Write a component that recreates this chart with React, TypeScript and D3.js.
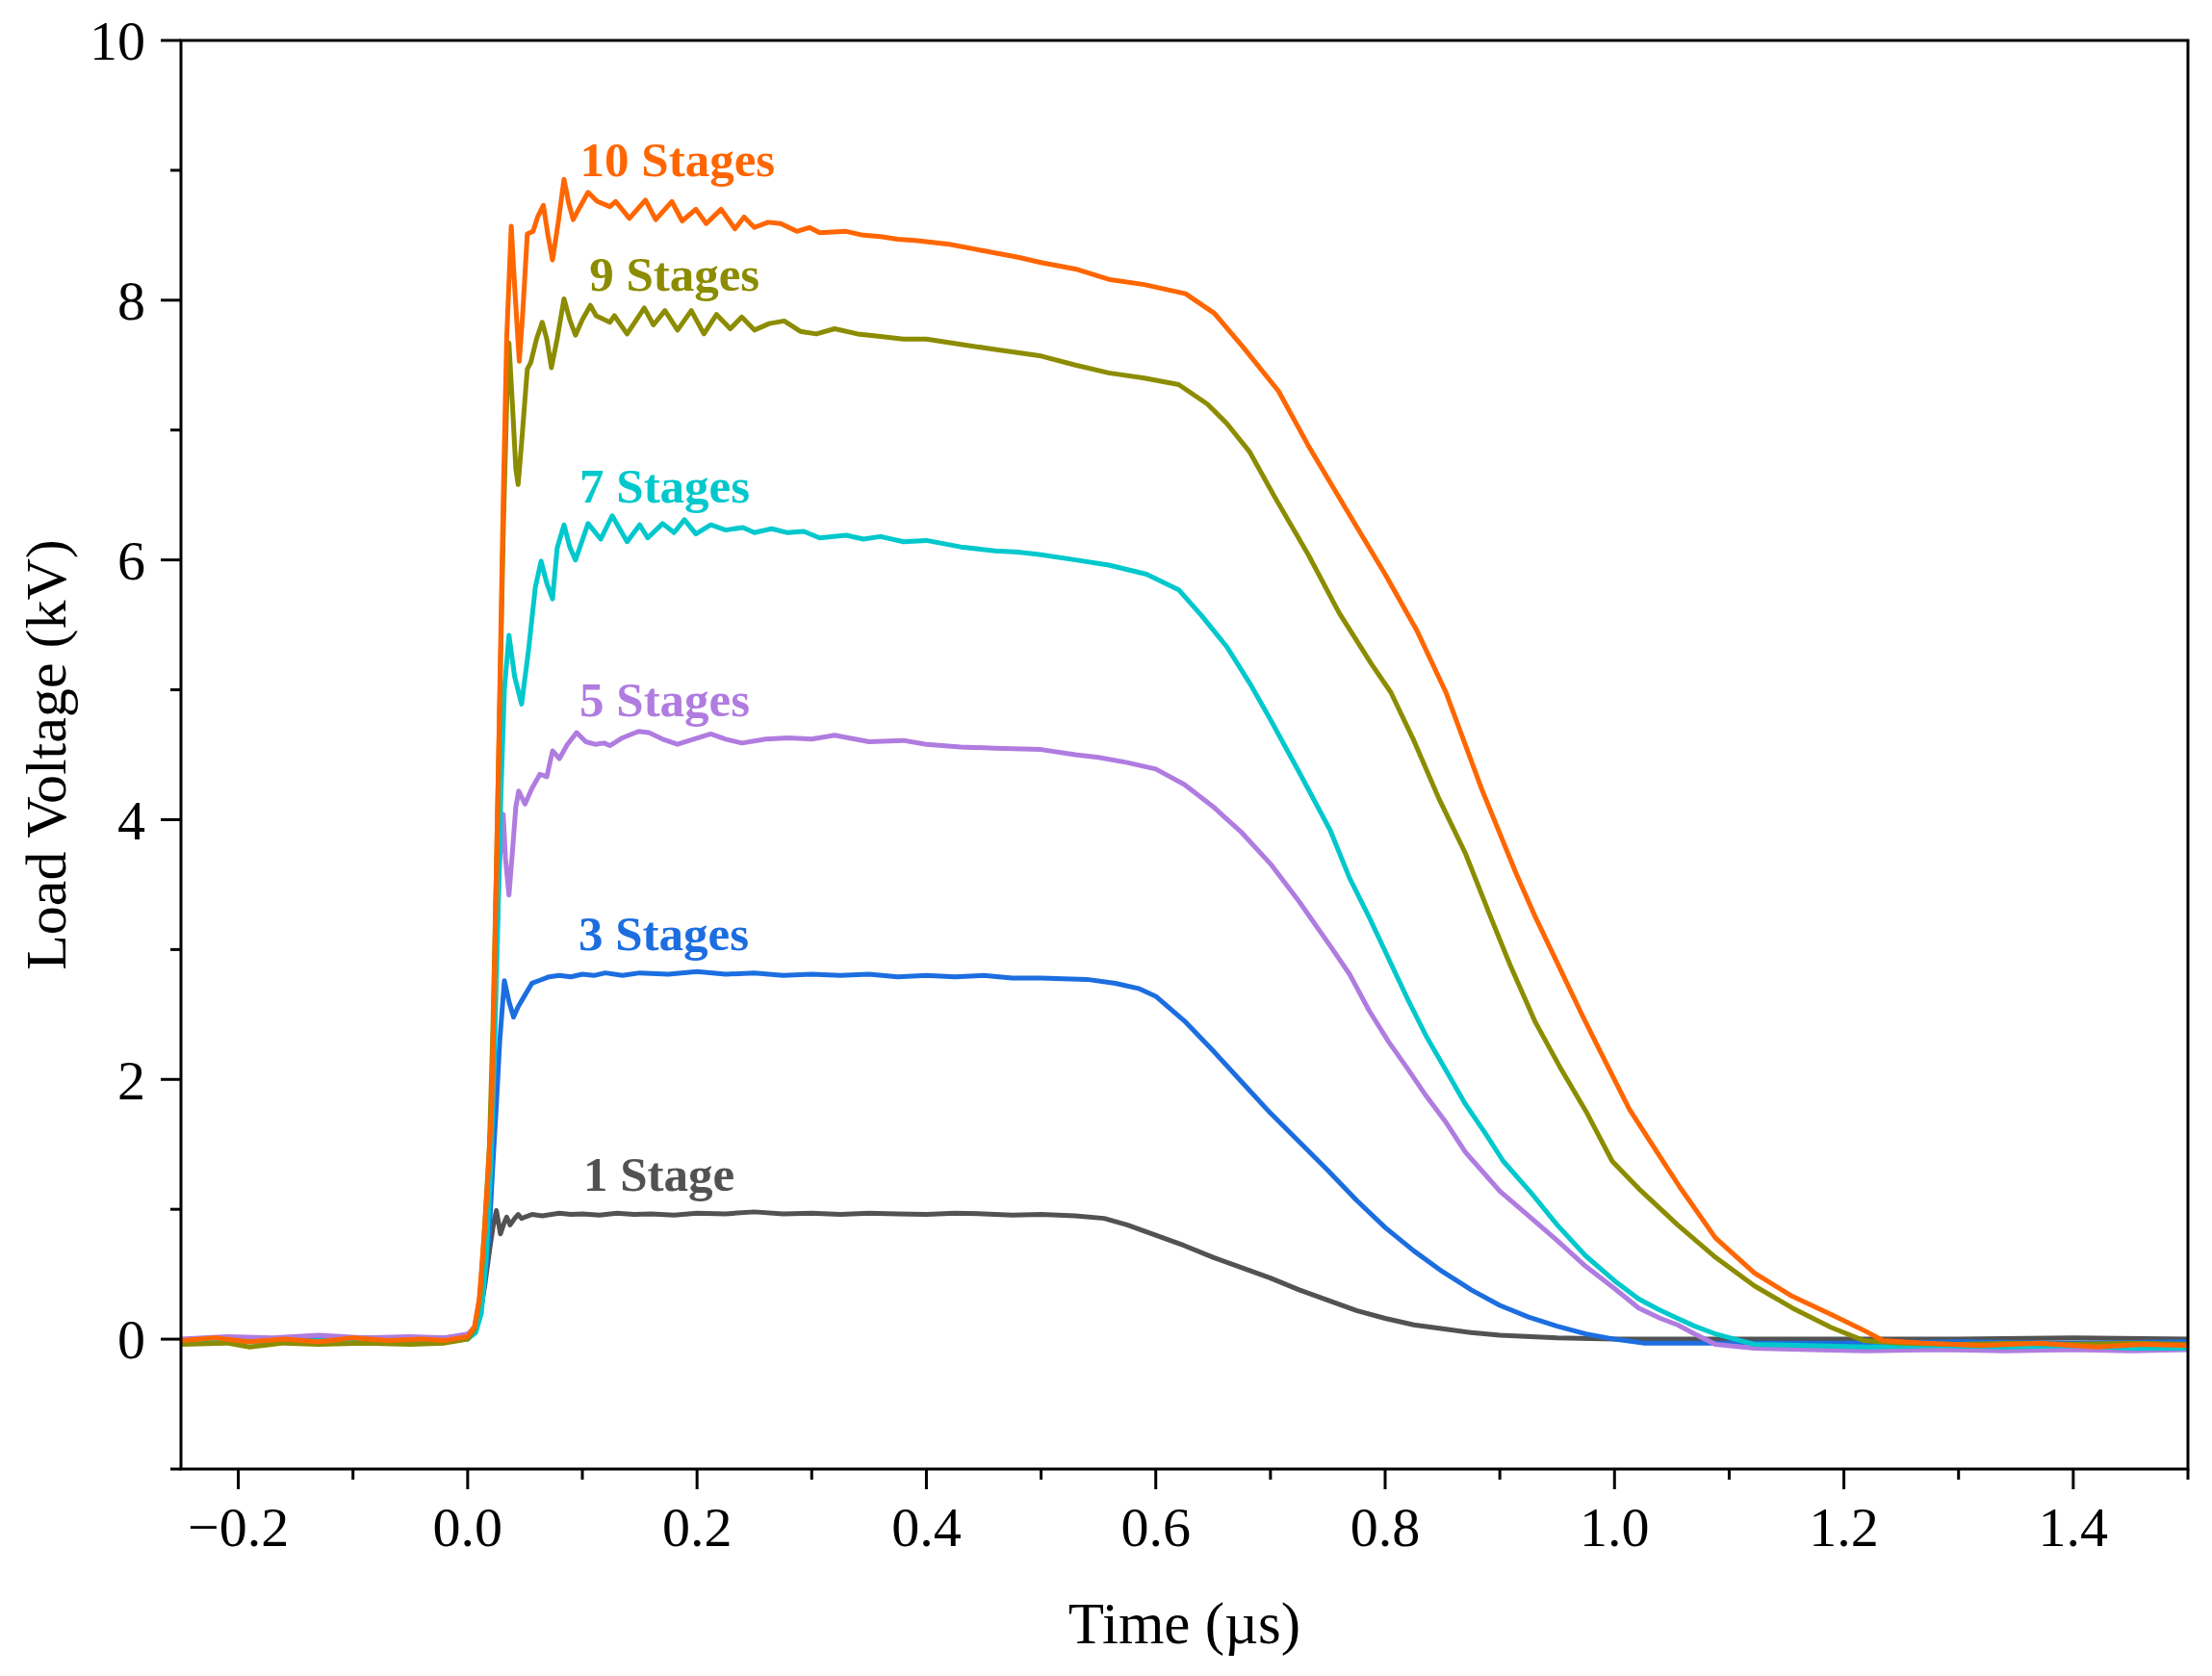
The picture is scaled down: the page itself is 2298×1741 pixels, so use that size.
import React from 'react';
import { scaleLinear, line } from 'd3';

// Load voltage traces (time in µs, voltage in kV) for each stage count
const stage1: [number, number][] = [
  [-0.25, -0.01], [-0.21, 0.0], [-0.17, -0.01], [-0.13, 0.0], [-0.09, 0.01], [-0.05, 0.0], [-0.02, 0.01],
  [0.0, 0.03], [0.006, 0.08], [0.011, 0.2], [0.015, 0.42], [0.019, 0.68], [0.022, 0.86], [0.025, 0.99],
  [0.0286, 0.81], [0.032, 0.9], [0.034, 0.94], [0.037, 0.88], [0.041, 0.93], [0.044, 0.96], [0.047, 0.93],
  [0.05, 0.94], [0.056, 0.96], [0.065, 0.95], [0.08, 0.97], [0.09, 0.96], [0.1, 0.965], [0.115, 0.955],
  [0.13, 0.97], [0.145, 0.96], [0.16, 0.965], [0.18, 0.955], [0.2, 0.97], [0.225, 0.965], [0.25, 0.98],
  [0.275, 0.965], [0.3, 0.97], [0.325, 0.96], [0.35, 0.97], [0.375, 0.965], [0.4, 0.96], [0.425, 0.97],
  [0.45, 0.965], [0.475, 0.955], [0.5, 0.96], [0.53, 0.95], [0.555, 0.93], [0.575, 0.88], [0.6, 0.8],
  [0.625, 0.72], [0.65, 0.63], [0.675, 0.55], [0.7, 0.47], [0.725, 0.38], [0.75, 0.3], [0.775, 0.22],
  [0.8, 0.16], [0.825, 0.11], [0.85, 0.08], [0.875, 0.05], [0.9, 0.03], [0.95, 0.01], [1.0, 0.0],
  [1.1, 0.0], [1.2, 0.0], [1.3, 0.0], [1.4, 0.01], [1.5, 0.0],
];

const stage3: [number, number][] = [
  [-0.25, -0.02], [-0.21, 0.0], [-0.17, -0.02], [-0.13, 0.0], [-0.09, -0.01], [-0.05, 0.0], [-0.02, -0.01],
  [0.0, 0.02], [0.006, 0.07], [0.011, 0.2], [0.015, 0.45], [0.019, 0.85], [0.022, 1.35], [0.025, 1.8],
  [0.028, 2.3], [0.032, 2.76], [0.036, 2.6], [0.04, 2.48], [0.044, 2.56], [0.048, 2.62], [0.052, 2.68],
  [0.056, 2.74], [0.062, 2.76], [0.071, 2.79], [0.08, 2.8], [0.09, 2.79], [0.1, 2.81], [0.11, 2.8],
  [0.12, 2.82], [0.135, 2.8], [0.15, 2.82], [0.175, 2.81], [0.2, 2.83], [0.225, 2.81], [0.25, 2.82],
  [0.275, 2.8], [0.3, 2.81], [0.325, 2.8], [0.35, 2.81], [0.375, 2.79], [0.4, 2.8], [0.425, 2.79],
  [0.45, 2.8], [0.475, 2.78], [0.5, 2.78], [0.54, 2.77], [0.565, 2.74], [0.585, 2.7], [0.6, 2.64],
  [0.625, 2.45], [0.65, 2.22], [0.675, 1.98], [0.7, 1.74], [0.725, 1.52], [0.75, 1.3], [0.775, 1.07],
  [0.8, 0.86], [0.825, 0.68], [0.85, 0.52], [0.875, 0.38], [0.9, 0.26], [0.925, 0.17], [0.95, 0.1],
  [0.975, 0.04], [1.0, 0.0], [1.025, -0.03], [1.1, -0.03], [1.2, -0.03], [1.3, -0.02], [1.4, -0.03], [1.5, -0.02],
];

const stage5: [number, number][] = [
  [-0.25, 0.0], [-0.21, 0.02], [-0.17, 0.01], [-0.13, 0.03], [-0.09, 0.01], [-0.05, 0.02], [-0.02, 0.01],
  [0.0, 0.04], [0.006, 0.09], [0.011, 0.3], [0.015, 0.75], [0.019, 1.4], [0.022, 2.2], [0.025, 3.0],
  [0.028, 3.7], [0.031, 4.04], [0.033, 3.7], [0.036, 3.42], [0.039, 3.75], [0.042, 4.1], [0.0445, 4.22],
  [0.05, 4.12], [0.056, 4.24], [0.063, 4.35], [0.069, 4.33], [0.074, 4.53], [0.08, 4.47], [0.087, 4.58],
  [0.095, 4.67], [0.103, 4.6], [0.111, 4.58], [0.119, 4.59], [0.124, 4.57], [0.135, 4.63], [0.149, 4.68],
  [0.158, 4.67], [0.17, 4.62], [0.183, 4.58], [0.197, 4.62], [0.212, 4.66], [0.225, 4.62], [0.239, 4.59],
  [0.26, 4.62], [0.28, 4.63], [0.3, 4.62], [0.32, 4.65], [0.35, 4.6], [0.38, 4.61], [0.4, 4.58],
  [0.43, 4.56], [0.46, 4.55], [0.5, 4.54], [0.53, 4.5], [0.55, 4.48], [0.575, 4.44], [0.6, 4.39],
  [0.625, 4.27], [0.65, 4.1], [0.675, 3.9], [0.7, 3.66], [0.725, 3.37], [0.752, 3.03], [0.769, 2.81],
  [0.786, 2.53], [0.803, 2.29], [0.819, 2.09], [0.836, 1.87], [0.853, 1.67], [0.87, 1.44], [0.887, 1.27],
  [0.9, 1.14], [0.925, 0.95], [0.95, 0.76], [0.975, 0.56], [1.0, 0.39], [1.021, 0.24], [1.04, 0.16],
  [1.055, 0.11], [1.07, 0.04], [1.088, -0.04], [1.122, -0.07], [1.17, -0.08], [1.22, -0.09], [1.28, -0.08],
  [1.34, -0.09], [1.4, -0.08], [1.45, -0.09], [1.5, -0.08],
];

const stage7: [number, number][] = [
  [-0.25, -0.02], [-0.21, -0.01], [-0.17, -0.03], [-0.13, -0.01], [-0.09, -0.02], [-0.05, -0.01], [-0.02, -0.02],
  [0.0, 0.0], [0.007, 0.05], [0.012, 0.2], [0.016, 0.6], [0.02, 1.3], [0.023, 2.1], [0.026, 3.1],
  [0.029, 4.2], [0.032, 5.0], [0.036, 5.42], [0.041, 5.1], [0.047, 4.89], [0.053, 5.3], [0.059, 5.79],
  [0.064, 5.99], [0.069, 5.82], [0.074, 5.7], [0.078, 6.09], [0.084, 6.27], [0.089, 6.1], [0.094, 6.0],
  [0.105, 6.28], [0.116, 6.16], [0.126, 6.34], [0.139, 6.14], [0.15, 6.27], [0.157, 6.17], [0.17, 6.28],
  [0.18, 6.21], [0.189, 6.31], [0.199, 6.2], [0.212, 6.27], [0.225, 6.23], [0.24, 6.25], [0.25, 6.21],
  [0.265, 6.24], [0.279, 6.21], [0.293, 6.22], [0.307, 6.17], [0.33, 6.19], [0.345, 6.16], [0.36, 6.18],
  [0.38, 6.14], [0.4, 6.15], [0.43, 6.1], [0.46, 6.07], [0.48, 6.06], [0.5, 6.04], [0.53, 6.0],
  [0.559, 5.96], [0.592, 5.89], [0.62, 5.77], [0.64, 5.57], [0.662, 5.33], [0.682, 5.05], [0.7, 4.77],
  [0.726, 4.35], [0.752, 3.92], [0.769, 3.55], [0.786, 3.25], [0.803, 2.93], [0.819, 2.63], [0.836, 2.33],
  [0.853, 2.07], [0.87, 1.81], [0.887, 1.59], [0.903, 1.37], [0.926, 1.14], [0.95, 0.88], [0.975, 0.64],
  [1.0, 0.45], [1.021, 0.31], [1.038, 0.23], [1.055, 0.16], [1.07, 0.1], [1.088, 0.04], [1.105, 0.0],
  [1.122, -0.04], [1.17, -0.05], [1.22, -0.06], [1.28, -0.05], [1.34, -0.06], [1.4, -0.05], [1.45, -0.07], [1.5, -0.07],
];

const stage9: [number, number][] = [
  [-0.25, -0.04], [-0.21, -0.03], [-0.19, -0.06], [-0.16, -0.03], [-0.13, -0.04], [-0.09, -0.03], [-0.05, -0.04],
  [-0.02, -0.03], [0.0, 0.0], [0.006, 0.08], [0.011, 0.35], [0.015, 0.9], [0.019, 1.5], [0.022, 2.4],
  [0.025, 3.6], [0.028, 4.9], [0.031, 6.2], [0.034, 7.2], [0.036, 7.67], [0.039, 7.2], [0.042, 6.7],
  [0.044, 6.58], [0.047, 6.9], [0.052, 7.47], [0.055, 7.52], [0.06, 7.7], [0.065, 7.83], [0.069, 7.7],
  [0.073, 7.48], [0.078, 7.7], [0.084, 8.01], [0.089, 7.85], [0.094, 7.73], [0.1, 7.85], [0.107, 7.96],
  [0.112, 7.88], [0.124, 7.83], [0.128, 7.88], [0.139, 7.74], [0.154, 7.94], [0.162, 7.81], [0.172, 7.92],
  [0.183, 7.77], [0.195, 7.92], [0.206, 7.74], [0.217, 7.89], [0.229, 7.78], [0.239, 7.87], [0.25, 7.77],
  [0.263, 7.82], [0.276, 7.84], [0.29, 7.76], [0.304, 7.74], [0.32, 7.78], [0.34, 7.74], [0.36, 7.72],
  [0.38, 7.7], [0.4, 7.7], [0.43, 7.66], [0.46, 7.62], [0.5, 7.57], [0.53, 7.5], [0.559, 7.44],
  [0.59, 7.4], [0.62, 7.35], [0.645, 7.2], [0.662, 7.05], [0.682, 6.83], [0.704, 6.48], [0.733, 6.04],
  [0.76, 5.59], [0.788, 5.2], [0.805, 4.98], [0.825, 4.61], [0.847, 4.16], [0.87, 3.74], [0.892, 3.25],
  [0.909, 2.88], [0.931, 2.44], [0.954, 2.07], [0.976, 1.74], [0.998, 1.37], [1.021, 1.16], [1.055, 0.88],
  [1.088, 0.63], [1.122, 0.41], [1.155, 0.24], [1.189, 0.09], [1.217, -0.01], [1.25, -0.03], [1.3, -0.04],
  [1.35, -0.03], [1.4, -0.04], [1.45, -0.03], [1.5, -0.04],
];

const stage10: [number, number][] = [
  [-0.25, -0.01], [-0.22, 0.01], [-0.19, -0.02], [-0.16, 0.0], [-0.13, -0.02], [-0.1, 0.01], [-0.07, -0.01],
  [-0.04, 0.0], [-0.02, -0.01], [0.0, 0.02], [0.006, 0.1], [0.01, 0.3], [0.014, 0.75], [0.018, 1.3],
  [0.021, 1.8], [0.0235, 2.9], [0.027, 4.5], [0.031, 6.46], [0.034, 7.7], [0.038, 8.57], [0.041, 8.1],
  [0.045, 7.53], [0.048, 7.9], [0.052, 8.51], [0.057, 8.53], [0.061, 8.64], [0.066, 8.73], [0.07, 8.5],
  [0.074, 8.31], [0.079, 8.6], [0.084, 8.93], [0.088, 8.75], [0.092, 8.62], [0.098, 8.72], [0.105, 8.83],
  [0.113, 8.76], [0.124, 8.72], [0.129, 8.76], [0.141, 8.63], [0.155, 8.77], [0.164, 8.62], [0.178, 8.76],
  [0.187, 8.61], [0.199, 8.7], [0.208, 8.59], [0.221, 8.7], [0.233, 8.55], [0.241, 8.64], [0.25, 8.56],
  [0.262, 8.6], [0.273, 8.59], [0.287, 8.53], [0.298, 8.56], [0.307, 8.52], [0.33, 8.53], [0.345, 8.5],
  [0.36, 8.49], [0.375, 8.47], [0.39, 8.46], [0.42, 8.43], [0.45, 8.38], [0.48, 8.33], [0.5, 8.29],
  [0.53, 8.24], [0.559, 8.16], [0.59, 8.12], [0.626, 8.05], [0.651, 7.9], [0.676, 7.64], [0.707, 7.3],
  [0.733, 6.88], [0.766, 6.39], [0.8, 5.89], [0.828, 5.45], [0.853, 4.98], [0.884, 4.24], [0.914, 3.59],
  [0.931, 3.25], [0.971, 2.51], [0.985, 2.26], [1.013, 1.77], [1.04, 1.4], [1.057, 1.17], [1.088, 0.78],
  [1.122, 0.51], [1.155, 0.33], [1.189, 0.19], [1.217, 0.07], [1.234, -0.01], [1.27, -0.03], [1.32, -0.05],
  [1.37, -0.03], [1.42, -0.06], [1.46, -0.04], [1.5, -0.05],
];

const seriesNames = ['1 Stage', '3 Stages', '5 Stages', '7 Stages', '9 Stages', '10 Stages'];
const seriesData = [stage1, stage3, stage5, stage7, stage9, stage10];
const seriesColors = ['#525252', '#1c6ee0', '#b07ce0', '#00c8cc', '#8c8c00', '#ff6600'];
// label anchor (time, voltage) for each trace's name
const labelAnchors: [number, number][] = [
  [0.1008, 1.142], [0.0966, 2.995], [0.0975, 4.8], [0.0975, 6.44], [0.106, 8.07], [0.098, 8.955],
];

const xMajorTicks = [-0.2, 0, 0.2, 0.4, 0.6, 0.8, 1.0, 1.2, 1.4];
const xTickLabels = ['\u22120.2', '0.0', '0.2', '0.4', '0.6', '0.8', '1.0', '1.2', '1.4'];
const xMinorTicks = [-0.1, 0.1, 0.3, 0.5, 0.7, 0.9, 1.1, 1.3, 1.5];
const yMajorTicks = [0, 2, 4, 6, 8, 10];
const yMinorTicks = [-1, 1, 3, 5, 7, 9];

const width = 2298;
const height = 1741;
const margin = { top: 42, right: 25, bottom: 215, left: 188 };
const font = '"Liberation Serif", "Times New Roman", serif';

export default function App() {
  const innerWidth = width - margin.left - margin.right;
  const innerHeight = height - margin.top - margin.bottom;

  const xScale = scaleLinear().domain([-0.25, 1.5]).range([0, innerWidth]);
  const yScale = scaleLinear().domain([-1, 10]).range([innerHeight, 0]);

  const trace = line<[number, number]>()
    .x(d => xScale(d[0]))
    .y(d => yScale(d[1]));

  const major = 21;
  const minor = 11;

  return (
    <div style={{ position: 'absolute', left: 0, top: 0 }}>
      <svg width={width} height={height} style={{ display: 'block', background: '#fff' }}>
        <defs>
          <clipPath id="plot-area">
            <rect x={0} y={0} width={innerWidth} height={innerHeight} />
          </clipPath>
        </defs>
        <g transform={`translate(${margin.left},${margin.top})`}>
          <g clipPath="url(#plot-area)">
            {seriesData.map((d, i) => (
              <path
                key={seriesNames[i]}
                d={trace(d) || ''}
                fill="none"
                stroke={seriesColors[i]}
                strokeWidth={5}
                strokeLinejoin="round"
                strokeLinecap="round"
              />
            ))}
          </g>

          {seriesNames.map((name, i) => (
            <text
              key={name}
              x={xScale(labelAnchors[i][0])}
              y={yScale(labelAnchors[i][1])}
              fill={seriesColors[i]}
              fontFamily={font}
              fontWeight="bold"
              fontSize={51}
            >
              {name}
            </text>
          ))}

          {/* frame */}
          <rect x={0} y={0} width={innerWidth} height={innerHeight} fill="none" stroke="#000" strokeWidth={3} />

          {/* bottom axis */}
          {xMajorTicks.map((t, i) => (
            <g key={t} transform={`translate(${xScale(t)},${innerHeight})`}>
              <line y2={major} stroke="#000" strokeWidth={3} />
              <text y={80} textAnchor="middle" fontFamily={font} fontSize={58} fill="#000">
                {xTickLabels[i]}
              </text>
            </g>
          ))}
          {xMinorTicks.map(t => (
            <line key={t} x1={xScale(t)} x2={xScale(t)} y1={innerHeight} y2={innerHeight + minor} stroke="#000" strokeWidth={3} />
          ))}

          {/* left axis */}
          {yMajorTicks.map(v => (
            <g key={v} transform={`translate(0,${yScale(v)})`}>
              <line x2={-major} stroke="#000" strokeWidth={3} />
              <text x={-37} dy="0.35em" textAnchor="end" fontFamily={font} fontSize={58} fill="#000">
                {v}
              </text>
            </g>
          ))}
          {yMinorTicks.map(v => (
            <line key={v} x1={0} x2={-minor} y1={yScale(v)} y2={yScale(v)} stroke="#000" strokeWidth={3} />
          ))}

          <text x={innerWidth / 2} y={innerHeight + 181} textAnchor="middle" fontFamily={font} fontSize={61} fill="#000">
            Time (µs)
          </text>
          <text
            transform={`translate(${-120},${innerHeight / 2}) rotate(-90)`}
            textAnchor="middle"
            fontFamily={font}
            fontSize={60}
            fill="#000"
          >
            Load Voltage (kV)
          </text>
        </g>
      </svg>
    </div>
  );
}
